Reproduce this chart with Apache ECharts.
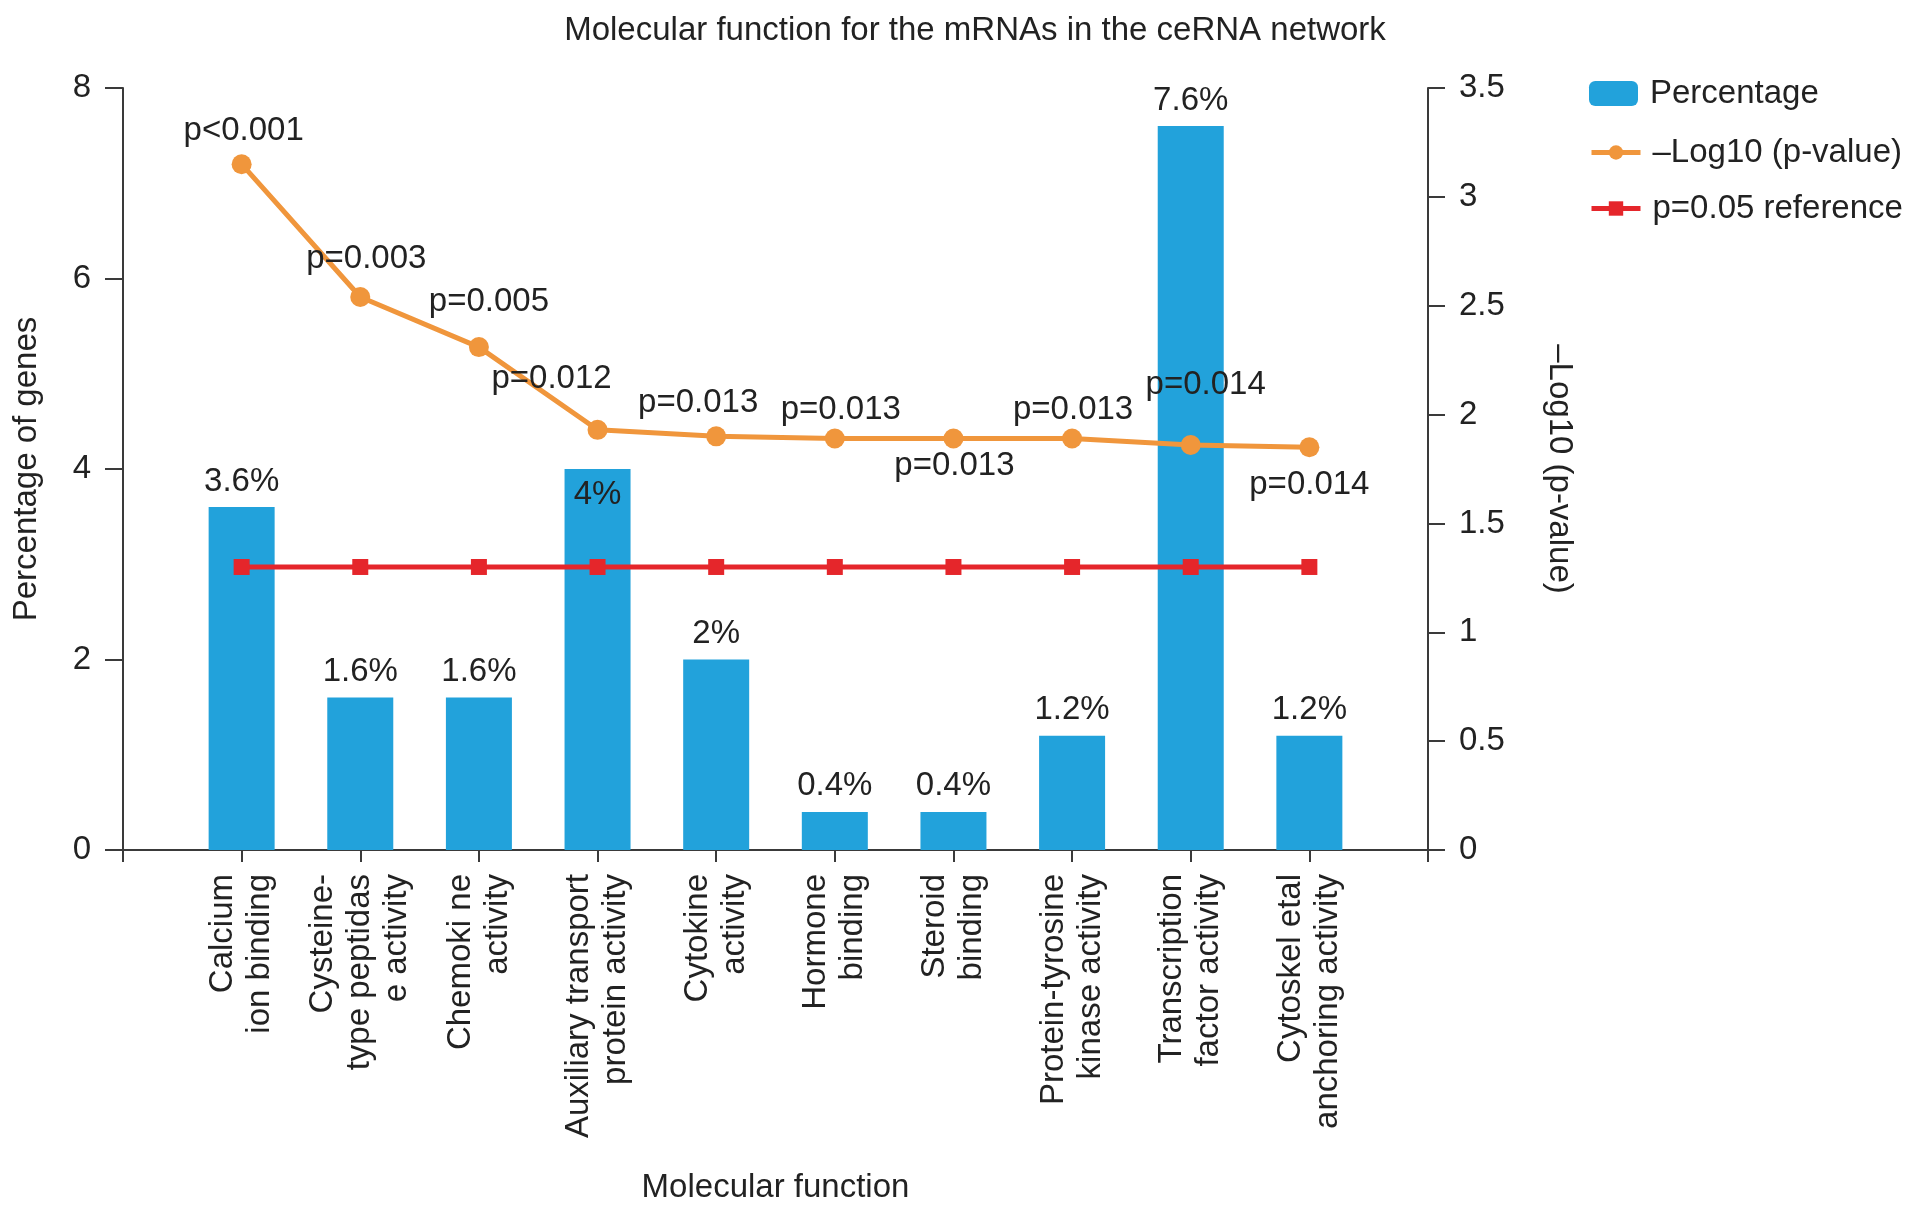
<!DOCTYPE html>
<html>
<head>
<meta charset="utf-8">
<script src="https://cdn.jsdelivr.net/npm/echarts@6/dist/echarts.min.js"></script>
<style>html,body{margin:0;padding:0;background:#fff}#c{width:1913px;height:1210px}</style>
</head>
<body>
<div id="c"></div>
<script>
const categories = [
  'Calcium\nion binding',
  'Cysteine-\ntype peptidas\ne activity',
  'Chemoki ne\nactivity',
  'Auxiliary transport\nprotein activity',
  'Cytokine\nactivity',
  'Hormone\nbinding',
  'Steroid\nbinding',
  'Protein-tyrosine\nkinase activity',
  'Transcription\nfactor activity',
  'Cytoskel etal\nanchoring activity'
];
const percentage = [3.6, 1.6, 1.6, 4, 2, 0.4, 0.4, 1.2, 7.6, 1.2];
const negLog10P = [3.15, 2.54, 2.31, 1.93, 1.90, 1.89, 1.89, 1.89, 1.86, 1.85];
const pLabels = ['p<0.001', 'p=0.003', 'p=0.005', 'p=0.012', 'p=0.013', 'p=0.013', 'p=0.013', 'p=0.013', 'p=0.014', 'p=0.014'];
const referenceLine = [1.30, 1.30, 1.30, 1.30, 1.30, 1.30, 1.30, 1.30, 1.30, 1.30];
const leftTicks = { min: 0, max: 8, interval: 2 };
const rightTicks = { min: 0, max: 3.5, interval: 0.5 };

// layout-only: label offsets (px) for the p-value labels
const pLabelOffsets = [[2,-33],[6,-38],[10,-45],[-46,-51],[-18,-33],[6,-29],[1,27],[1,-29],[15,-60],[0,38]];
const barLabelInside = [false,false,false,true,false,false,false,false,false,false];

const FONT = "'Liberation Sans', Arial, Helvetica, sans-serif";
const FS = 33;
const TXT = '#222';
const AX = '#3a3a3a';

const xCats = [''].concat(categories, ['']);
const pad = arr => ['-'].concat(arr, ['-']);

const chart = echarts.init(document.getElementById('c'));
chart.setOption({
  animation: false,
  backgroundColor: '#fff',
  textStyle: { fontFamily: FONT },
  title: {
    text: 'Molecular function for the mRNAs in the ceRNA network',
    left: 970, top: 9, textAlign: 'center',
    textStyle: { fontFamily: FONT, fontSize: 33, fontWeight: 'normal', color: TXT }
  },
  legend: [
    { data: ['Percentage'], left: 1589, top: 77, itemWidth: 49, itemHeight: 25, padding: 0,
      textStyle: { fontFamily: FONT, fontSize: FS, color: TXT, padding: [0,0,0,7] } },
    { data: ['–Log10 (p-value)'], left: 1589, top: 136, itemWidth: 49, itemHeight: 18, padding: 0,
      lineStyle: { width: 5 },
      textStyle: { fontFamily: FONT, fontSize: FS, color: TXT, padding: [0,0,0,7] } },
    { data: ['p=0.05 reference'], left: 1589, top: 192, itemWidth: 49, itemHeight: 18, padding: 0,
      lineStyle: { width: 5 },
      textStyle: { fontFamily: FONT, fontSize: FS, color: TXT, padding: [0,0,0,7] } }
  ],
  grid: { left: 123, right: 485, top: 88, bottom: 360, containLabel: false },
  xAxis: {
    type: 'category', data: xCats, boundaryGap: false,
    name: 'Molecular function', nameLocation: 'middle', nameGap: 321,
    nameTextStyle: { fontFamily: FONT, fontSize: FS, color: TXT },
    axisLine: { lineStyle: { color: AX, width: 2 } },
    axisTick: { show: true, interval: 0, length: 12, lineStyle: { color: AX, width: 2 } },
    axisLabel: { interval: 0, rotate: 90, margin: 24, fontFamily: FONT, fontSize: 33, lineHeight: 37, color: TXT },
    splitLine: { show: false }
  },
  yAxis: [
    {
      type: 'value', min: leftTicks.min, max: leftTicks.max, interval: leftTicks.interval,
      name: 'Percentage of genes', nameLocation: 'middle', nameGap: 80, nameRotate: 90,
      nameTextStyle: { fontFamily: FONT, fontSize: FS, color: TXT },
      axisLine: { show: true, lineStyle: { color: AX, width: 2 } },
      axisTick: { show: true, length: 18, lineStyle: { color: AX, width: 2 } },
      axisLabel: { margin: 32, fontFamily: FONT, fontSize: FS, color: TXT },
      splitLine: { show: false }
    },
    {
      type: 'value', position: 'right', min: rightTicks.min, max: rightTicks.max, interval: rightTicks.interval,
      name: '–Log10 (p-value)', nameLocation: 'middle', nameGap: 115, nameRotate: -90,
      nameTextStyle: { fontFamily: FONT, fontSize: FS, color: TXT },
      axisLine: { show: true, lineStyle: { color: AX, width: 2 } },
      axisTick: { show: true, length: 17, lineStyle: { color: AX, width: 2 } },
      axisLabel: { margin: 31, fontFamily: FONT, fontSize: FS, color: TXT },
      splitLine: { show: false }
    }
  ],
  series: [
    {
      name: 'Percentage', type: 'bar', barWidth: 66,
      itemStyle: { color: '#22A2DB' },
      data: pad(percentage.map((v, i) => ({
        value: v,
        label: barLabelInside[i] ? { position: 'insideTop', distance: 9 } : { position: 'top', distance: 9 }
      }))),
      label: {
        show: true, fontFamily: FONT, fontSize: FS, color: TXT,
        formatter: p => p.value + '%'
      },
      z: 2
    },
    {
      name: '–Log10 (p-value)', type: 'line', yAxisIndex: 1,
      symbol: 'circle', symbolSize: 20,
      itemStyle: { color: '#F0963C' },
      lineStyle: { color: '#F0963C', width: 5 },
      data: pad(negLog10P.map((v, i) => ({
        value: v,
        label: { offset: pLabelOffsets[i] }
      }))),
      label: {
        show: true, position: 'inside', fontFamily: FONT, fontSize: FS, color: TXT,
        align: 'center', verticalAlign: 'middle',
        formatter: p => pLabels[p.dataIndex - 1]
      },
      z: 4
    },
    {
      name: 'p=0.05 reference', type: 'line', yAxisIndex: 1,
      symbol: 'rect', symbolSize: 16,
      itemStyle: { color: '#E5262B' },
      lineStyle: { color: '#E5262B', width: 5 },
      data: pad(referenceLine),
      z: 3
    }
  ]
});
</script>
</body>
</html>
